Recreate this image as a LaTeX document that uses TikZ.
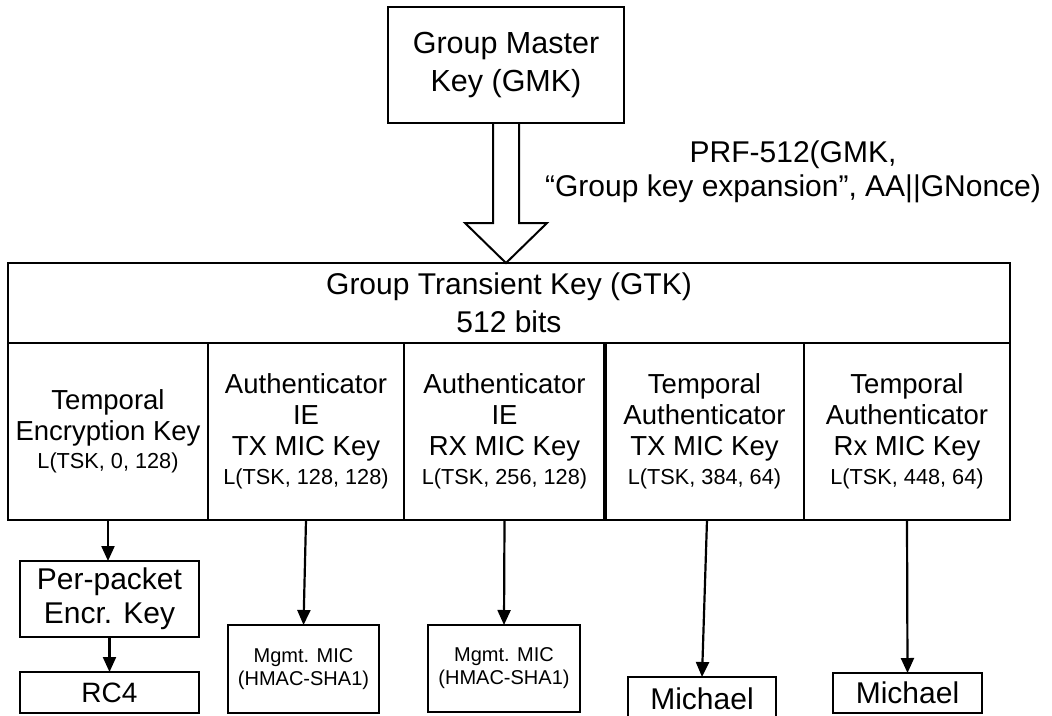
\documentclass[tikz,border=0pt]{standalone}
\usepackage{fontspec}
\setmainfont{Liberation Sans}
\usetikzlibrary{arrows.meta,calc}
\newcommand\smallkey[1]{{\fontsize{21.7}{26}\selectfont #1}}
\begin{document}
\begin{tikzpicture}[x=1pt,y=-1pt,
  box/.style={draw, line width=2.2pt, inner sep=0pt, outer sep=0pt, align=center},
  cellf/.style={font=\fontsize{27.5}{31}\selectfont},
  bigf/.style={font=\fontsize{30}{34}\selectfont},
  mgmtf/.style={font=\fontsize{20}{23}\selectfont},
  arr/.style={line width=2.2pt, -{Triangle[length=15pt,width=13pt]}},
  blockarrow/.style={line width=2pt, line join=miter},
]
\useasboundingbox (0,0) rectangle (1052,715);
\clip (0,0) rectangle (1052,715);

% Group Master Key
\node[box, minimum width=236pt, minimum height=116pt, font=\fontsize{30.5}{38}\selectfont] (gmk) at (506,65) {Group Master\\Key (GMK)};

% GTK header and cells
\node[box, minimum width=1002pt, minimum height=80pt, font=\fontsize{30}{38.5}\selectfont] (gtkh) at (509,303) {Group Transient Key (GTK)\\512 bits};
\node[box, cellf, minimum width=200pt, minimum height=177pt] (c1) at (108,431.5) {Temporal\\Encryption Key\\[-3pt]\smallkey{L(TSK, 0, 128)}};
\node[box, cellf, minimum width=196pt, minimum height=177pt] (c2) at (306,431.5) {Authenticator\\IE\\TX MIC Key\\[-2pt]\smallkey{L(TSK, 128, 128)}};
\node[box, cellf, minimum width=201pt, minimum height=177pt] (c3) at (504.5,431.5) {Authenticator\\IE\\RX MIC Key\\[-2pt]\smallkey{L(TSK, 256, 128)}};
\node[box, cellf, minimum width=199pt, minimum height=177pt] (c4) at (704.5,431.5) {Temporal\\Authenticator\\TX MIC Key\\[-2pt]\smallkey{L(TSK, 384, 64)}};
\node[box, cellf, minimum width=206pt, minimum height=177pt] (c5) at (907,431.5) {Temporal\\Authenticator\\Rx MIC Key\\[-2pt]\smallkey{L(TSK, 448, 64)}};
\draw[line width=4pt] (c3.north east) -- (c3.south east);

% block arrow GMK -> GTK
\coordinate (bt) at (gmk.south |- gtkh.north);
\draw[blockarrow] ($(gmk.south)+(-13,0)$) -- ++(0,100) -- ++(-28,0) -- (bt)
  -- ($(gmk.south)+(41,100)$) -- ++(-28,0) -- ($(gmk.south)+(13,0)$);

% PRF label
\node[bigf, align=center, inner sep=0pt] (prf) at (793,172) {PRF-512(GMK,\\“Group key expansion”, AA||GNonce)};

% lower boxes
\node[box, bigf, minimum width=179pt, minimum height=76pt] (pp) at (109.5,599) {Per-packet\\Encr. Key};
\node[box, font=\fontsize{28}{32}\selectfont, minimum width=179pt, minimum height=41pt] (rc4) at (109.5,692.5) {RC4};
\node[box, mgmtf, minimum width=151pt, minimum height=88pt] (m1) at (303.5,669) {Mgmt. MIC\\(HMAC-SHA1)};
\node[box, mgmtf, minimum width=152pt, minimum height=87pt] (m2) at (504,668.5) {Mgmt. MIC\\(HMAC-SHA1)};
\node[box, bigf, minimum width=148pt, minimum height=44pt] (mi1) at (702,699) {Michael};
\node[box, bigf, minimum width=149pt, minimum height=40pt] (mi2) at (907.5,693) {Michael};

% connectors
\draw[arr] (c1.south) -- (c1.south |- pp.north);
\draw[arr] (pp.south) -- (rc4.north);
\draw[arr] (c2.south) -- (m1.north);
\draw[arr] (c3.south) -- (m2.north);
\draw[arr] ($(c4.south)+(2.5,0)$) -- (mi1.north);
\draw[arr] (c5.south) -- (mi2.north);
\end{tikzpicture}
\end{document}
